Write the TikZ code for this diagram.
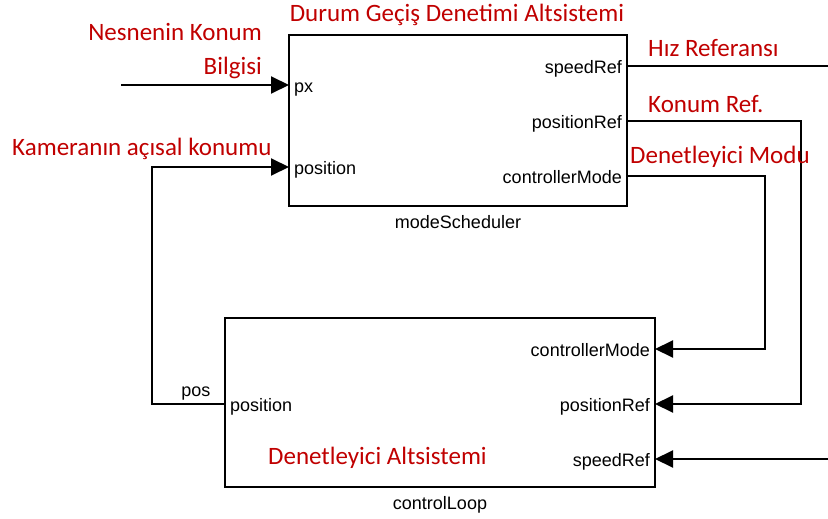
\documentclass[tikz,border=0pt]{standalone}
\usepackage{fontspec}
\setmainfont{Carlito}
\newfontfamily\portfont{Liberation Sans}
\usetikzlibrary{arrows.meta,positioning}
\definecolor{notered}{RGB}{192,0,0}

\begin{document}
\begin{tikzpicture}[x=1pt, y=-1pt,
    block/.style={draw=black, line width=2pt, inner sep=0pt},
    blockname/.style={font=\portfont\fontsize{18}{18}\selectfont, inner sep=0pt},
    % port text sits a little below its signal line
    port/.style={blockname, inner xsep=5pt, text height=16pt, text depth=1pt},
    note/.style={text=notered, font=\fontsize{25}{25}\selectfont, inner sep=0pt},
    wire/.style={line width=2pt},
    sig/.style={wire, -{Triangle[length=18pt,width=17pt]}}]
  \useasboundingbox (0,0) rectangle (828,519);

  % the two subsystems
  \node[block, minimum width=338pt, minimum height=171pt] (sched) at (458,120.5) {};
  \node[block, minimum width=430pt, minimum height=169pt] (loop) at (440,402.5) {};
  \node[blockname, below=8pt of sched] (schedname) {modeScheduler};
  \node[blockname, below=8pt of loop] (loopname) {controlLoop};

  % modeScheduler ports
  \node[port, anchor=west] (ms-px) at (289,85) {px};
  \node[port, anchor=west] (ms-pos) at (289,167) {position};
  \node[port, anchor=east] (ms-spd) at (627,66) {speedRef};
  \node[port, anchor=east] (ms-posref) at (627,121) {positionRef};
  \node[port, anchor=east] (ms-mode) at (627,176) {controllerMode};

  % controlLoop ports
  \node[port, anchor=west] (cl-pos) at (225,404) {position};
  \node[port, anchor=east] (cl-mode) at (655,349) {controllerMode};
  \node[port, anchor=east] (cl-posref) at (655,404) {positionRef};
  \node[port, anchor=east] (cl-spd) at (655,459) {speedRef};

  % loose ends
  \coordinate (pxsrc) at (121,85);
  \coordinate (spdout) at (828,66);
  \coordinate (spdin) at (828,459);

  % signals
  \draw[sig] (pxsrc) -- (ms-px.west);
  \draw[sig] (cl-pos.west) -- node[blockname, above=3pt, pos=0.4] {pos} +(-73,0) |- (ms-pos.west);
  \draw[wire] (ms-spd.east) -- (spdout);
  \draw[sig] (spdin) -- (cl-spd.east);
  \draw[sig] (ms-posref.east) -- +(174,0) |- (cl-posref.east);
  \draw[sig] (ms-mode.east) -- +(138,0) |- (cl-mode.east);

  % red notes
  \node[note] (schedtitle) at (457,15) {Durum Geçiş Denetimi Altsistemi};
  \node[note, anchor=east] (pxnote1) at (262,32) {Nesnenin Konum};
  \node[note, anchor=east] (pxnote2) at (262,68) {Bilgisi};
  \node[note, anchor=west] (posnote) at (12,149) {Kameranın açısal konumu};
  \node[note, anchor=west] (spdnote) at (648,48) {Hız Referansı};
  \node[note, anchor=west] (posrefnote) at (648,104) {Konum Ref.};
  \node[note, anchor=west] (modenote) at (630,157) {Denetleyici Modu};
  \node[note, anchor=west] (looptitle) at (268,458) {Denetleyici Altsistemi};
\end{tikzpicture}
\end{document}
